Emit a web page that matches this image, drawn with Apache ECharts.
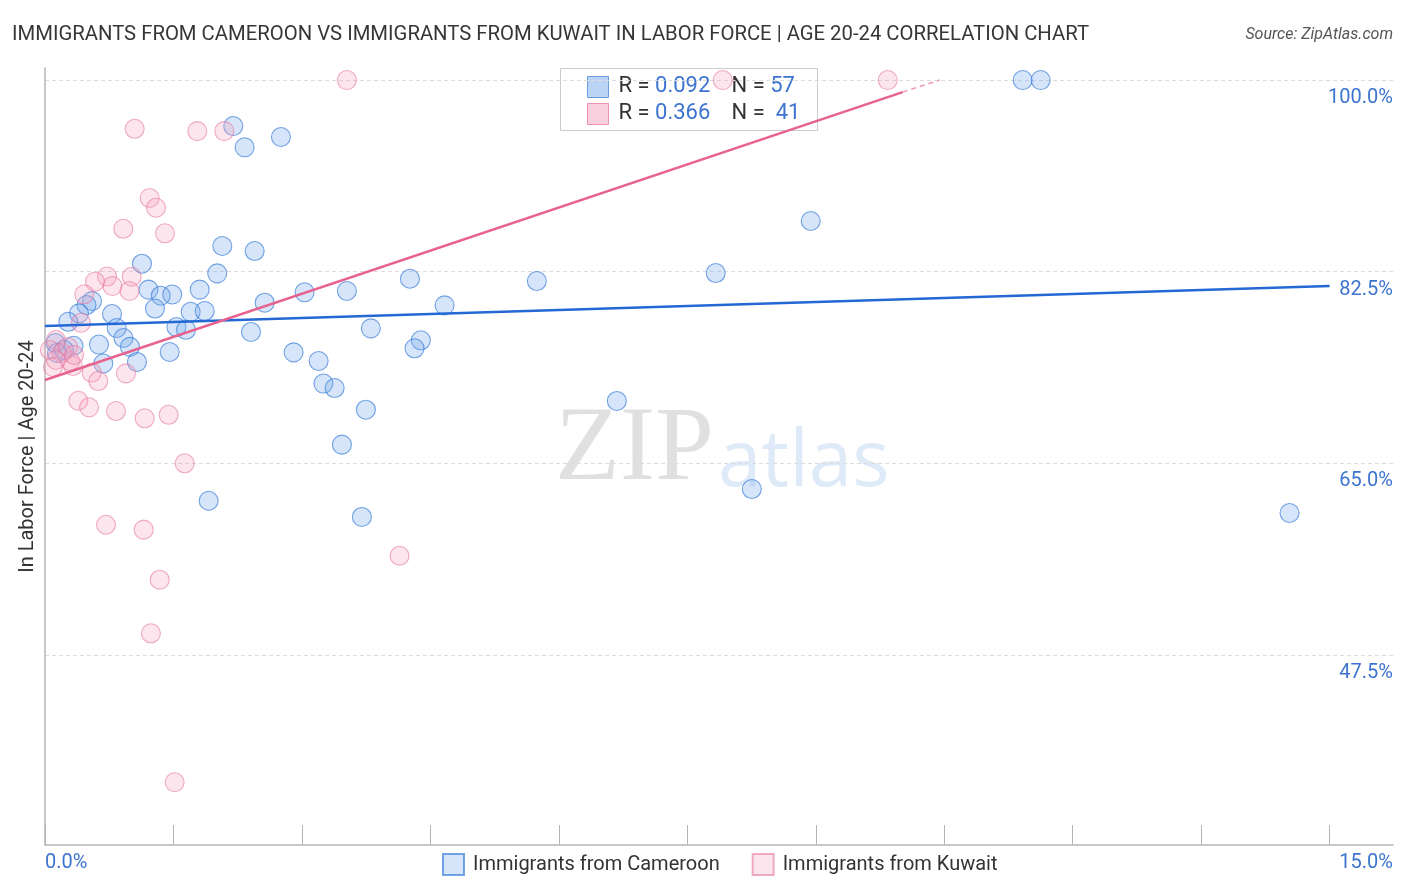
<!DOCTYPE html>
<html>
<head>
<meta charset="utf-8">
<script src="https://cdn.jsdelivr.net/npm/echarts@6/dist/echarts.min.js"></script>
<style>
html,body{margin:0;padding:0;background:#fff;}
#chart{width:1406px;height:892px;}
</style>
</head>
<body>
<div id="chart"></div>
<script>
// ---- data ----
const seriesNames = ['Immigrants from Cameroon', 'Immigrants from Kuwait'];

const cameroonX = [2.198,2.331,2.755,1.132,2.070,2.448,2.011,1.208,1.352,1.486,1.806,1.284,0.782,1.701,1.865,1.535,1.646,0.837,0.916,0.992,0.630,0.681,1.074,1.456,2.565,3.031,3.525,4.261,4.666,2.405,3.805,2.903,3.195,4.389,4.315,3.251,3.382,3.747,3.467,1.911,3.700,6.677,8.253,7.832,8.941,5.743,11.416,11.626,14.532,0.549,0.484,0.397,0.272,0.123,0.333,0.140,0.222];
const cameroonY = [95.80,93.86,94.80,83.23,84.85,84.39,82.35,80.87,80.31,80.42,80.87,79.14,78.64,78.84,78.91,77.45,77.20,77.36,76.45,75.64,75.85,74.12,74.26,75.17,79.67,80.62,80.74,81.86,79.43,77.00,77.33,75.14,74.35,76.24,75.51,72.29,71.88,69.90,66.71,61.59,60.11,70.70,62.66,82.38,87.13,81.65,100.0,100.0,60.47,79.82,79.46,78.70,77.93,75.99,75.74,75.08,75.35];

const kuwaitX = [1.047,1.778,2.093,1.222,1.296,0.914,1.401,0.724,1.012,0.788,0.986,0.584,0.459,0.420,0.545,0.622,0.945,0.389,0.514,0.829,1.164,1.444,1.631,0.712,1.152,1.339,1.237,1.514,4.140,3.525,9.840,7.914,0.128,0.058,0.198,0.292,0.128,0.327,0.093,0.268,0.339];
const kuwaitY = [95.55,95.34,95.34,89.23,88.34,86.42,86.01,82.06,82.04,81.19,80.74,81.59,80.44,77.84,73.28,72.52,73.22,70.72,70.12,69.78,69.12,69.44,65.01,59.40,58.95,54.38,49.49,35.89,56.57,100.0,100.0,100.0,76.26,75.35,75.08,74.35,74.44,73.89,73.80,75.63,74.90];

// trend line end points
const cameroonTrend = [[0, 77.54], [15.0, 81.19]];
const kuwaitTrendSolid = [[0, 72.61], [10.015, 98.90]];
const kuwaitTrendDashed = [[10.015, 98.90], [10.447, 100.0]];

// legend stats
const statR = ['0.092', '0.366'];
const statN = ['57', '41'];

// axes
const xMin = 0, xMax = 15.74;
const yMin = 30.16, yMax = 101.1;
const xTickValues = [0,1.5,3,4.5,6,7.5,9,10.5,12,13.5,15];
const xLabelValues = [0, 15.74];
const xLabelTexts = ['0.0%', '15.0%'];
const yTickValues = [47.5, 65, 82.5, 100];
const yTickLabels = ['47.5%', '65.0%', '82.5%', '100.0%'];

const titleText = 'IMMIGRANTS FROM CAMEROON VS IMMIGRANTS FROM KUWAIT IN LABOR FORCE | AGE 20-24 CORRELATION CHART';
const sourceText = 'Source: ZipAtlas.com';
const yAxisName = 'In Labor Force | Age 20-24';

// ---- build ----
const zip = (xs, ys) => xs.map((x, i) => [x, ys[i]]);
const FONT = 'Roboto, "Open Sans", sans-serif';
const BLUE_TXT = '#3d74d0';
const richStat = {a: {fontSize: 22, fill: '#333', fontFamily: FONT}, b: {fontSize: 22, fill: BLUE_TXT, fontFamily: FONT}};

const chart = echarts.init(document.getElementById('chart'), null, {renderer: 'canvas'});
const option = {
  animation: false,
  backgroundColor: '#ffffff',
  textStyle: {fontFamily: FONT},
  title: [
    {text: titleText, left: 7, top: 20, textStyle: {fontSize: 20.3, fontWeight: 'normal', color: '#363636', fontFamily: FONT}},
    {text: sourceText, right: 8, top: 22, textStyle: {fontSize: 16, fontWeight: 'normal', fontStyle: 'italic', color: '#555', fontFamily: FONT}}
  ],
  grid: {left: 45, right: 13, top: 68, bottom: 47, containLabel: false},
  legend: {
    data: seriesNames,
    left: 437, top: 848,
    itemWidth: 21, itemHeight: 21, itemGap: 32,
    textStyle: {fontSize: 20, color: '#333', fontFamily: FONT, padding: [0,0,0,4]},
    icon: 'rect'
  },
  xAxis: {
    type: 'value', min: xMin, max: xMax,
    axisLine: {show: true, lineStyle: {color: '#b5b5b5', width: 1.5}},
    axisTick: {show: true, inside: true, length: 20, customValues: xTickValues, lineStyle: {color: '#b5b5b5', width: 1}},
    axisLabel: {
      customValues: xLabelValues,
      formatter: v => { const i = xLabelValues.findIndex(t => Math.abs(t - v) < 1e-6); return i >= 0 ? xLabelTexts[i] : ''; },
      alignMinLabel: 'left', alignMaxLabel: 'right',
      color: BLUE_TXT, fontSize: 20, margin: 8, fontFamily: FONT
    },
    splitLine: {show: false}
  },
  yAxis: [
    {
      type: 'value', min: yMin, max: yMax, position: 'right',
      axisLine: {show: false},
      axisTick: {show: false, customValues: yTickValues},
      axisLabel: {
        inside: true, margin: 0, customValues: yTickValues,
        formatter: v => { const i = yTickValues.findIndex(t => Math.abs(t - v) < 1e-6); return i >= 0 ? yTickLabels[i] : ''; },
        color: BLUE_TXT, fontSize: 20, verticalAlign: 'top', padding: [8,0,0,0], fontFamily: FONT
      },
      splitLine: {show: true, lineStyle: {color: '#dcdcdc', type: [4,3], width: 1}}
    },
    {
      type: 'value', min: yMin, max: yMax, position: 'left',
      axisLine: {show: true, onZero: false, lineStyle: {color: '#b5b5b5', width: 1.5}},
      axisTick: {show: false}, axisLabel: {show: false}, splitLine: {show: false},
      name: yAxisName, nameLocation: 'middle', nameGap: 7, nameRotate: 90,
      nameTextStyle: {fontSize: 20, color: '#333', fontFamily: FONT}
    }
  ],
  graphic: [
    {type: 'text', left: 555, top: 398, z: 0, silent: true,
     style: {text: 'ZIP', font: '106px "Liberation Serif", "DejaVu Serif", serif', fill: 'rgba(0,0,0,0.12)'}},
    {type: 'text', left: 718, top: 425, z: 0, silent: true,
     style: {text: 'atlas', font: '78px "Open Sans", sans-serif', fill: 'rgba(80,140,220,0.18)'}},
    {type: 'group', left: 560, top: 68, z: 100, children: [
      {type: 'rect', shape: {x: 0, y: 0, width: 257, height: 62}, style: {fill: 'rgba(255,255,255,0.85)', stroke: '#cccccc', lineWidth: 1}},
      {type: 'rect', shape: {x: 27, y: 8, width: 21, height: 21}, style: {fill: 'rgba(120,170,235,0.5)', stroke: '#6a9de0', lineWidth: 1}},
      {type: 'rect', shape: {x: 27, y: 35, width: 21, height: 21}, style: {fill: 'rgba(245,160,190,0.5)', stroke: '#eb94b0', lineWidth: 1}},
      {type: 'text', x: 58, y: 18, style: {text: '{a|R = }{b|' + statR[0] + '}', rich: richStat, verticalAlign: 'middle'}},
      {type: 'text', x: 171, y: 18, style: {text: '{a|N = }{b|' + statN[0] + '}', rich: richStat, verticalAlign: 'middle'}},
      {type: 'text', x: 58, y: 45, style: {text: '{a|R = }{b|' + statR[1] + '}', rich: richStat, verticalAlign: 'middle'}},
      {type: 'text', x: 171, y: 45, style: {text: '{a|N = }{b| ' + statN[1] + '}', rich: richStat, verticalAlign: 'middle'}}
    ]}
  ],
  series: [
    {
      name: seriesNames[0], type: 'scatter', yAxisIndex: 0, z: 3,
      data: zip(cameroonX, cameroonY), symbolSize: 19,
      itemStyle: {color: 'rgba(120,170,235,0.38)', borderColor: 'rgba(55,125,215,0.85)', borderWidth: 1.1}
    },
    {
      name: seriesNames[1], type: 'scatter', yAxisIndex: 0, z: 3,
      data: zip(kuwaitX, kuwaitY), symbolSize: 19,
      itemStyle: {color: 'rgba(245,160,190,0.35)', borderColor: 'rgba(230,120,160,0.75)', borderWidth: 1.1}
    },
    {
      type: 'line', yAxisIndex: 0, data: cameroonTrend, symbol: 'none', z: 5, silent: true,
      lineStyle: {color: '#2468d4', width: 2.5}
    },
    {
      type: 'line', yAxisIndex: 0, data: kuwaitTrendSolid, symbol: 'none', z: 5, silent: true,
      lineStyle: {color: '#e8628f', width: 2.5}
    },
    {
      type: 'line', yAxisIndex: 0, data: kuwaitTrendDashed, symbol: 'none', z: 5, silent: true,
      lineStyle: {color: '#ef9ab6', width: 1.5, type: [5,4]}
    }
  ]
};
chart.setOption(option);
</script>
</body>
</html>
